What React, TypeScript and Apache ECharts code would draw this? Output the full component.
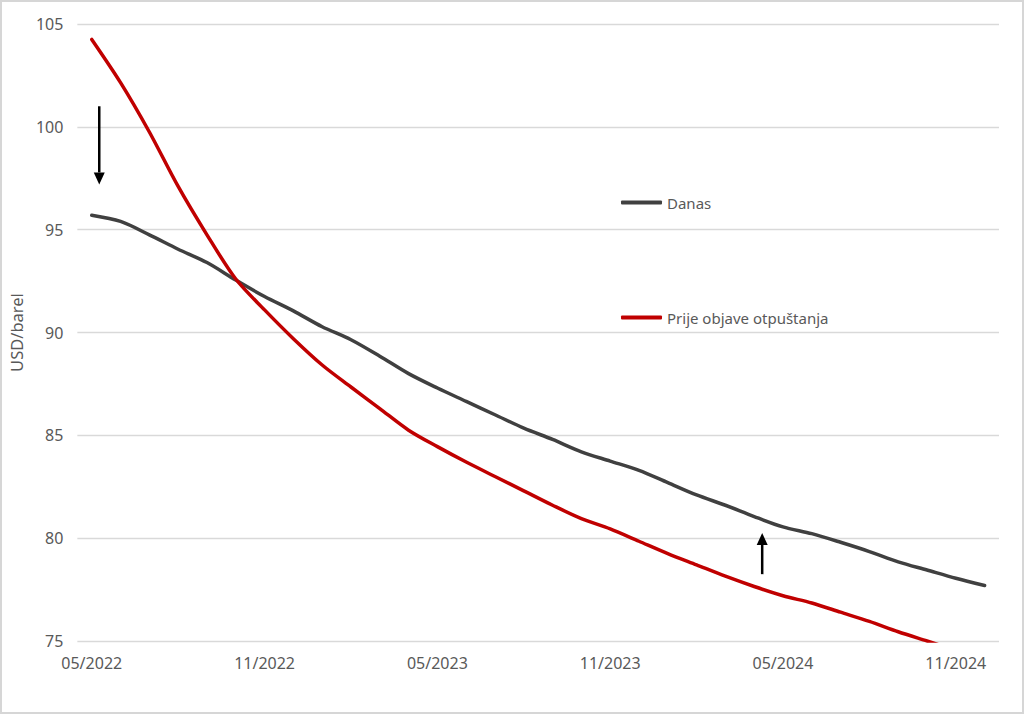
import React, { useEffect, useRef } from "react";
import * as echarts from "echarts";

const months = [
  "05/2022", "06/2022", "07/2022", "08/2022", "09/2022", "10/2022", "11/2022", "12/2022",
  "01/2023", "02/2023", "03/2023", "04/2023", "05/2023", "06/2023", "07/2023", "08/2023",
  "09/2023", "10/2023", "11/2023", "12/2023", "01/2024", "02/2024", "03/2024", "04/2024",
  "05/2024", "06/2024", "07/2024", "08/2024", "09/2024", "10/2024", "11/2024", "12/2024",
];

const danas = [
  95.7, 95.4, 94.75, 94.05, 93.4, 92.55, 91.75, 91.05,
  90.28, 89.65, 88.85, 88.0, 87.3, 86.65, 86.0, 85.35,
  84.8, 84.2, 83.75, 83.3, 82.7, 82.1, 81.6, 81.05,
  80.55, 80.22, 79.8, 79.35, 78.85, 78.45, 78.05, 77.7,
];

const prije = [
  104.25, 102.15, 99.75, 97.1, 94.75, 92.6, 91.1, 89.7,
  88.42, 87.35, 86.3, 85.25, 84.45, 83.7, 83.0, 82.3,
  81.6, 80.95, 80.45, 79.85, 79.25, 78.7, 78.15, 77.65,
  77.2, 76.85, 76.4, 75.95, 75.45, 75.0, 74.55, 74.1,
];

const seriesNames = ["Danas", "Prije objave otpuštanja"];
const yTicks = { min: 75, max: 105, interval: 5 };
const axisName = "USD/barel";

// annotation arrows in data space: [category index, pixel offset, from value, to value]
const arrowDown = { idx: 0, dx: 7.5, from: 101.0, to: 97.2 };
const arrowUp = { idx: 23, dx: 8, from: 78.25, to: 80.25 };

const FONT = "Noto Sans";
const TXT = "#595959";

export default function App() {
  const ref = useRef<HTMLDivElement>(null);
  useEffect(() => {
    if (!ref.current) return;
    const chart = echarts.init(ref.current, undefined, { renderer: "svg" });
    chart.setOption({
      animation: false,
      backgroundColor: "#ffffff",
      grid: { left: 72, right: 25, top: 24, bottom: 73 },
      legend: {
        orient: "vertical",
        left: 616,
        top: 190,
        itemGap: 100,
        itemWidth: 41,
        itemHeight: 4,
        icon: "roundRect",
        textStyle: { fontFamily: FONT, fontSize: 15, color: TXT, padding: [0, 0, 0, 0] },
        data: seriesNames,
      },
      xAxis: {
        type: "category",
        data: months,
        boundaryGap: true,
        axisLine: { show: false },
        axisTick: { show: false },
        splitLine: { show: false },
        axisLabel: {
          interval: 5,
          margin: 14,
          fontFamily: FONT,
          fontSize: 16,
          color: TXT,
        },
      },
      yAxis: {
        type: "value",
        min: yTicks.min,
        max: yTicks.max,
        interval: yTicks.interval,
        name: axisName,
        nameLocation: "middle",
        nameGap: 45,
        nameTextStyle: { fontFamily: FONT, fontSize: 16.5, color: TXT },
        axisLine: { show: false },
        axisTick: { show: false },
        axisLabel: { margin: 14, fontFamily: FONT, fontSize: 16, color: TXT },
        splitLine: { lineStyle: { color: "#d9d9d9", width: 1.3 } },
      },
      series: [
        {
          name: seriesNames[0],
          type: "line",
          data: danas,
          smooth: 0.3,
          showSymbol: false,
          symbol: "none",
          color: "#404040",
          lineStyle: { color: "#404040", width: 3.5, cap: "round" },
        },
        {
          name: seriesNames[1],
          type: "line",
          data: prije,
          smooth: 0.3,
          showSymbol: false,
          symbol: "none",
          color: "#c00000",
          lineStyle: { color: "#c00000", width: 3.5, cap: "round" },
        },
      ],
    });

    const makeArrow = (a: { idx: number; dx: number; from: number; to: number }) => {
      const p1 = chart.convertToPixel({ xAxisIndex: 0, yAxisIndex: 0 }, [a.idx, a.from]) as number[];
      const p2 = chart.convertToPixel({ xAxisIndex: 0, yAxisIndex: 0 }, [a.idx, a.to]) as number[];
      const x = p1[0] + a.dx;
      const dir = p2[1] > p1[1] ? 1 : -1;
      const headLen = 12;
      const headHalf = 5.5;
      const baseY = p2[1] - dir * headLen;
      return [
        {
          type: "line",
          shape: { x1: x, y1: p1[1], x2: x, y2: baseY },
          style: { stroke: "#000", lineWidth: 2.5 },
          silent: true,
        },
        {
          type: "polygon",
          shape: { points: [[x - headHalf, baseY], [x + headHalf, baseY], [x, p2[1]]] },
          style: { fill: "#000" },
          silent: true,
        },
      ];
    };
    chart.setOption({
      graphic: [...makeArrow(arrowDown), ...makeArrow(arrowUp)],
    });

    return () => chart.dispose();
  }, []);

  return (
    <div style={{ position: "fixed", left: 0, top: 0, width: 1024, height: 714, background: "#fff" }}>
      <div ref={ref} style={{ position: "absolute", left: 0, top: 0, width: 1024, height: 714 }} />
      <div
        style={{
          position: "absolute",
          left: 0,
          top: 0,
          width: 1024,
          height: 714,
          boxSizing: "border-box",
          border: "2px solid #d6d6d6",
          pointerEvents: "none",
        }}
      />
    </div>
  );
}
